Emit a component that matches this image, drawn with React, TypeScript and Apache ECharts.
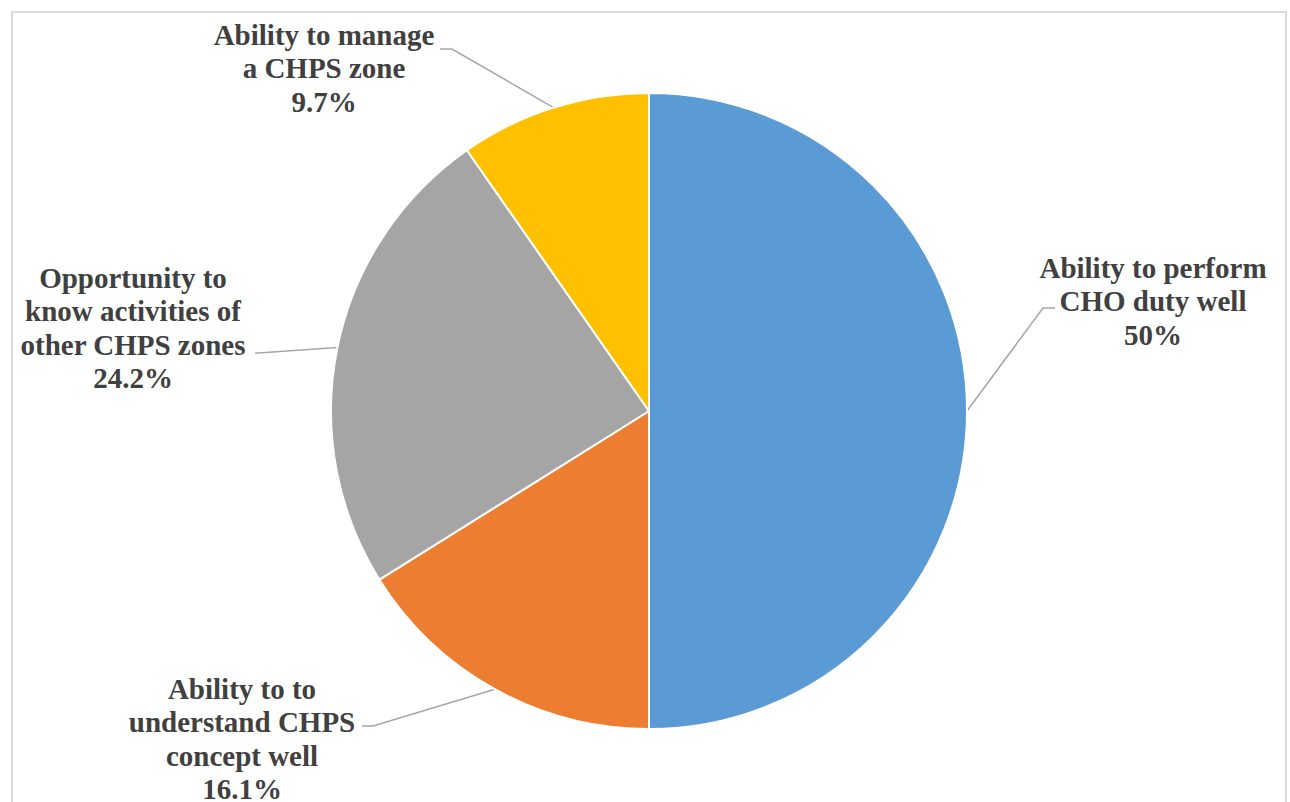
import React, { useEffect, useRef } from "react";
import * as echarts from "echarts";

const categories = [
  "Ability to perform\nCHO duty well",
  "Ability to to\nunderstand CHPS\nconcept well",
  "Opportunity to\nknow activities of\nother CHPS zones",
  "Ability to manage\na CHPS zone",
];
const values = [50, 16.1, 24.2, 9.7];
const colors = ["#5B9BD5", "#ED7D31", "#A5A5A5", "#FFC000"];

// label layout (position of each label block and its leader-line elbow/end)
const labelCenters = [
  [1153, 301],
  [242, 739],
  [133, 328],
  [324, 68],
];
const lineElbows = [
  [1043, 308],
  [373, 726],
  [258, 353],
  [452, 49],
];
const lineEnds = [
  [1055, 308],
  [362, 726],
  [255, 353],
  [440, 49],
];

export default function App() {
  const ref = useRef<HTMLDivElement>(null);
  useEffect(() => {
    if (!ref.current) return;
    const chart = echarts.init(ref.current, null, { renderer: "svg" });
    chart.setOption({
      animation: false,
      backgroundColor: "#ffffff",
      graphic: [
        {
          type: "rect",
          shape: { x: 12, y: 12, width: 1274, height: 800 },
          style: { fill: "none", stroke: "#d9d9d9", lineWidth: 2 },
          z: -1,
        },
      ],
      series: [
        {
          type: "pie",
          center: [649, 411],
          radius: 318,
          startAngle: 90,
          clockwise: true,
          avoidLabelOverlap: false,
          itemStyle: { borderColor: "#ffffff", borderWidth: 2 },
          label: {
            show: true,
            formatter: (p: any) => `${p.name}\n${p.value}%`,
            fontFamily: "'Liberation Serif', 'Times New Roman', serif",
            fontWeight: "bold",
            fontSize: 29,
            lineHeight: 33.5,
            color: "#404040",
            align: "center",
          },
          labelLine: {
            show: true,
            length: 20,
            length2: 10,
            lineStyle: { color: "#a6a6a6", width: 1.5 },
          },
          labelLayout: (params: any) => {
            const i = params.dataIndex;
            const start = params.labelLinePoints ? params.labelLinePoints[0] : lineElbows[i];
            return {
              x: labelCenters[i][0],
              y: labelCenters[i][1],
              align: "center",
              verticalAlign: "middle",
              labelLinePoints: [start, lineElbows[i], lineEnds[i]],
            };
          },
          data: categories.map((name, i) => ({
            name,
            value: values[i],
            itemStyle: { color: colors[i] },
          })),
        },
      ],
    });
    return () => chart.dispose();
  }, []);
  return (
    <div
      ref={ref}
      style={{ position: "fixed", left: 0, top: 0, width: 1290, height: 802 }}
    />
  );
}
